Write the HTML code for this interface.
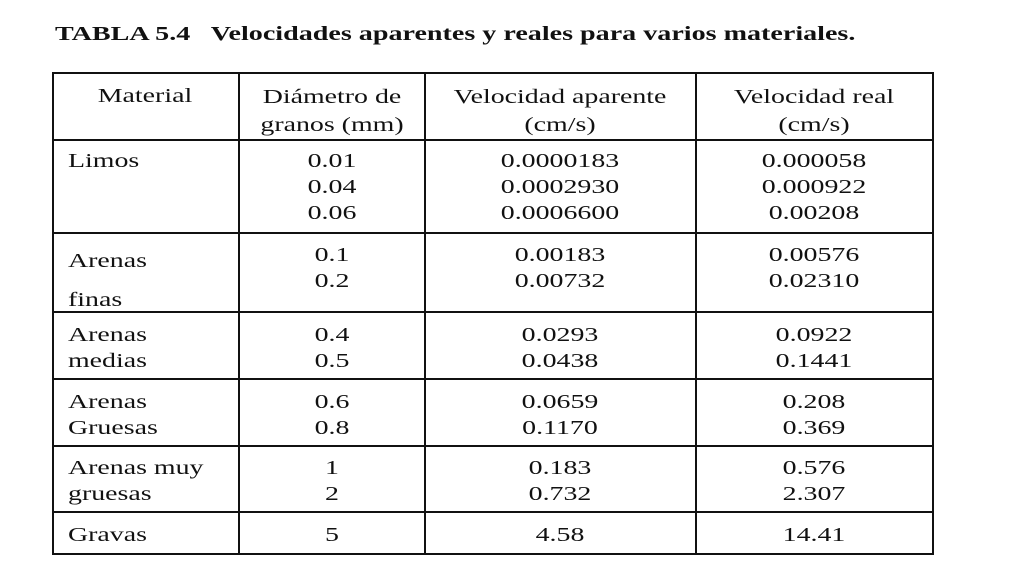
<!DOCTYPE html>
<html><head><meta charset="utf-8"><style>
body{margin:0;width:1024px;height:576px;background:#fff;position:relative;overflow:hidden;font-family:"Liberation Serif",serif;color:#111}
.t{position:absolute;font-size:20.5px;line-height:26px;white-space:nowrap;transform:scaleX(1.36);transform-origin:left center}
.c{transform:translateX(-50%) scaleX(1.36);transform-origin:center center;text-align:center}
.h{position:absolute;background:#111;height:2px}
.v{position:absolute;background:#111;width:2px}
</style></head><body>
<div class="t" style="left:55px;top:21px;font-weight:bold;font-size:20.5px;transform:scaleX(1.37)">TABLA 5.4&nbsp;&nbsp; Velocidades aparentes y reales para varios materiales.</div>
<div>
<div class="h" style="left:52px;width:882px;top:72px"></div>
<div class="h" style="left:52px;width:882px;top:139px"></div>
<div class="h" style="left:52px;width:882px;top:232px"></div>
<div class="h" style="left:52px;width:882px;top:311px"></div>
<div class="h" style="left:52px;width:882px;top:378px"></div>
<div class="h" style="left:52px;width:882px;top:445px"></div>
<div class="h" style="left:52px;width:882px;top:511px"></div>
<div class="h" style="left:52px;width:882px;top:553px"></div>
<div class="v" style="left:52px;top:72px;height:483px"></div>
<div class="v" style="left:238px;top:72px;height:483px"></div>
<div class="v" style="left:424px;top:72px;height:483px"></div>
<div class="v" style="left:695px;top:72px;height:483px"></div>
<div class="v" style="left:932px;top:72px;height:483px"></div>
</div>
<div class="t c" style="left:145px;top:83px">Material</div>
<div class="t c" style="left:332px;top:83px;line-height:28px">Diámetro de<br>granos (mm)</div>
<div class="t c" style="left:560px;top:83px;line-height:28px">Velocidad aparente<br>(cm/s)</div>
<div class="t c" style="left:814px;top:83px;line-height:28px">Velocidad real<br>(cm/s)</div>

<div class="t" style="left:68px;top:148px">Limos</div>
<div class="t c" style="left:332px;top:148px">0.01<br>0.04<br>0.06</div>
<div class="t c" style="left:560px;top:148px">0.0000183<br>0.0002930<br>0.0006600</div>
<div class="t c" style="left:814px;top:148px">0.000058<br>0.000922<br>0.00208</div>

<div class="t" style="left:68px;top:242px;line-height:39px">Arenas<br>finas</div>
<div class="t c" style="left:332px;top:242px">0.1<br>0.2</div>
<div class="t c" style="left:560px;top:242px">0.00183<br>0.00732</div>
<div class="t c" style="left:814px;top:242px">0.00576<br>0.02310</div>

<div class="t" style="left:68px;top:322px">Arenas<br>medias</div>
<div class="t c" style="left:332px;top:322px">0.4<br>0.5</div>
<div class="t c" style="left:560px;top:322px">0.0293<br>0.0438</div>
<div class="t c" style="left:814px;top:322px">0.0922<br>0.1441</div>

<div class="t" style="left:68px;top:389px">Arenas<br>Gruesas</div>
<div class="t c" style="left:332px;top:389px">0.6<br>0.8</div>
<div class="t c" style="left:560px;top:389px">0.0659<br>0.1170</div>
<div class="t c" style="left:814px;top:389px">0.208<br>0.369</div>

<div class="t" style="left:68px;top:455px">Arenas muy<br>gruesas</div>
<div class="t c" style="left:332px;top:455px">1<br>2</div>
<div class="t c" style="left:560px;top:455px">0.183<br>0.732</div>
<div class="t c" style="left:814px;top:455px">0.576<br>2.307</div>

<div class="t" style="left:68px;top:522px">Gravas</div>
<div class="t c" style="left:332px;top:522px">5</div>
<div class="t c" style="left:560px;top:522px">4.58</div>
<div class="t c" style="left:814px;top:522px">14.41</div>
</body></html>
